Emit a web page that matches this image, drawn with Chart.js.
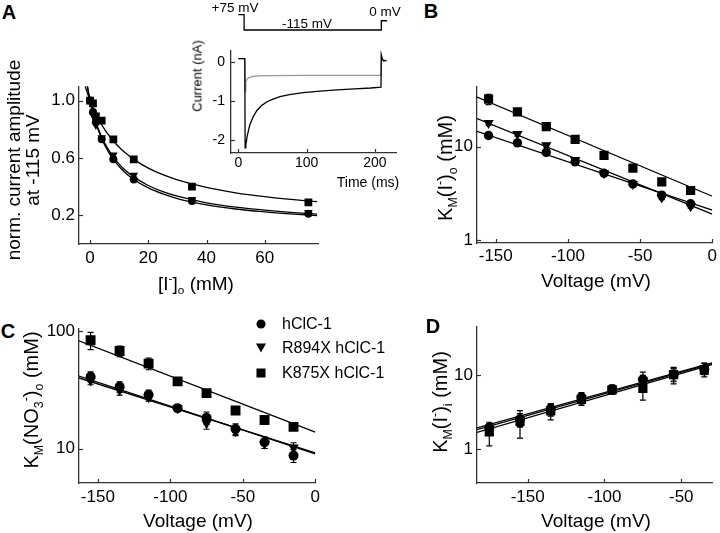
<!DOCTYPE html>
<html>
<head>
<meta charset="utf-8">
<script src="https://cdn.jsdelivr.net/npm/chart.js@4/dist/chart.umd.min.js"></script>
<style>
  body { margin: 0; background: #fff; }
  #fig { position: relative; width: 720px; height: 533px; overflow: hidden; font-family: "Liberation Sans", Arial, sans-serif; color: #000; }
  .c { position: absolute; }
  .t, .v, .lt, .mk { position: absolute; white-space: nowrap; line-height: 1; transform: translate(-50%, -50%); }
  .t { font-size: 19px; }
  .v { font-size: 20px; text-align: center; transform: translate(-50%, -50%) rotate(-90deg); }
  .lt { font-size: 20px; font-weight: bold; }
  .lg { position: absolute; white-space: nowrap; line-height: 1; font-size: 16px; transform: translateY(-50%); }
  sub, sup { font-size: 0.62em; line-height: 0; }
  .dot { width: 9px; height: 9px; border-radius: 50%; background: #000; }
  .tri { width: 0; height: 0; border-left: 5px solid transparent; border-right: 5px solid transparent; border-top: 9px solid #000; }
  .sq { width: 9px; height: 9px; background: #000; }
</style>
</head>
<body>
<div id="fig">
  <canvas id="cA" class="c"></canvas>
  <canvas id="cStep" class="c"></canvas>
  <canvas id="cIn" class="c"></canvas>
  <canvas id="cB" class="c"></canvas>
  <canvas id="cC" class="c"></canvas>
  <canvas id="cD" class="c"></canvas>

  <div class="lt" style="left:9px;top:12px">A</div>
  <div class="lt" style="left:431px;top:11px">B</div>
  <div class="lt" style="left:8px;top:331px">C</div>
  <div class="lt" style="left:433px;top:326px">D</div>

  <div class="v" style="left:23px;top:160px;font-size:19px">norm. current amplitude<br>at -115 mV</div>
  <div class="t" style="left:196px;top:283px">[I<sup>-</sup>]<sub>o</sub> (mM)</div>

  <div class="t" style="left:235px;top:8px;font-size:13.5px">+75 mV</div>
  <div class="t" style="left:307px;top:24px;font-size:13.5px">-115 mV</div>
  <div class="t" style="left:385px;top:12px;font-size:13.5px">0 mV</div>
  <div class="v" style="left:197px;top:76px;font-size:13px">Current (nA)</div>
  <div class="t" style="left:368px;top:182px;font-size:14px">Time (ms)</div>

  <div class="v" style="left:445px;top:168px">K<sub>M</sub>(I<sup>-</sup>)<sub>o</sub> (mM)</div>
  <div class="t" style="left:596px;top:280px">Voltage (mV)</div>

  <div class="v" style="left:31px;top:400px">K<sub>M</sub>(NO<sub>3</sub><sup>-</sup>)<sub>o</sub> (mM)</div>
  <div class="t" style="left:198px;top:520px">Voltage (mV)</div>

  <div class="v" style="left:440px;top:402px">K<sub>M</sub>(I<sup>-</sup>)<sub>i</sub> (mM)</div>
  <div class="t" style="left:596px;top:520px">Voltage (mV)</div>

  <div class="mk dot" style="left:261px;top:324px"></div>
  <div class="mk tri" style="left:261px;top:348px"></div>
  <div class="mk sq" style="left:261px;top:373px"></div>
  <div class="lg" style="left:282px;top:324px">hClC-1</div>
  <div class="lg" style="left:282px;top:348px">R894X hClC-1</div>
  <div class="lg" style="left:282px;top:373px">K875X hClC-1</div>
</div>

<script>
// A: normalised current at -115 mV vs external iodide
const concA = [0, 1, 2, 4, 8, 15, 35, 75];
const ampWT = [1.0, 0.92, 0.85, 0.73, 0.59, 0.45, 0.30, 0.21];
const ampR894X = [1.0, 0.90, 0.83, 0.74, 0.62, 0.48, 0.31, 0.22];
const ampK875X = [1.0, 0.98, 0.89, 0.86, 0.73, 0.59, 0.40, 0.29];
const concFitA = [-1.7, 0, 2, 4, 6, 8, 10, 12, 15, 20, 25, 30, 40, 50, 60, 70, 78];
const fitA_WT = [1.19, 1.0, 0.844, 0.734, 0.653, 0.59, 0.54, 0.499, 0.45, 0.391, 0.349, 0.317, 0.273, 0.244, 0.224, 0.208, 0.198];
const fitA_R894X = [1.19, 1.0, 0.85, 0.745, 0.668, 0.607, 0.557, 0.516, 0.468, 0.408, 0.365, 0.333, 0.287, 0.257, 0.236, 0.219, 0.208];
const fitA_K875X = [1.10, 1.0, 0.906, 0.831, 0.769, 0.718, 0.674, 0.637, 0.59, 0.529, 0.483, 0.447, 0.394, 0.357, 0.33, 0.309, 0.295];
const ticksA_x = [0, 20, 40, 60];
const labelsA_x = ["0", "20", "40", "60"];
const ticksA_y = [0.2, 0.6, 1.0];
const labelsA_y = ["0.2", "0.6", "1.0"];

// A inset: current traces and voltage protocol
const tBlack = [0, 9.5, 10, 11, 13, 17, 22, 27, 34, 42, 50, 61, 75, 95, 120, 145, 170, 194, 209, 209.5, 211, 213, 217];
const iBlack = [0.08, 0.08, -2.2, -2.12, -1.9, -1.6, -1.4, -1.25, -1.12, -1.02, -0.96, -0.89, -0.84, -0.79, -0.75, -0.72, -0.69, -0.67, -0.65, 0.17, 0.06, 0.02, 0.03];
const tGray = [0, 9.5, 10, 11, 12.5, 15, 18, 23, 30, 50, 100, 150, 209, 209.5, 211, 217];
const iGray = [0.08, 0.08, -0.75, -0.52, -0.45, -0.41, -0.39, -0.37, -0.36, -0.355, -0.35, -0.35, -0.35, 0.17, 0.06, 0.03];
const tStep = [0, 8.5, 8.5, 209.5, 209.5, 218];
const vStep = [75, 75, -115, -115, 0, 0];
const ticksIn_x = [0, 100, 200];
const labelsIn_x = ["0", "100", "200"];
const ticksIn_y = [-2, -1, 0];
const labelsIn_y = ["-2", "-1", "0"];

// B and C: KM vs voltage
const voltBC = [-155, -135, -115, -95, -75, -55, -35, -15];
const kmB_WT = [13.2, 11.0, 8.7, 6.9, 5.2, 4.0, 3.03, 2.45];
const kmB_R894X = [18, 13.7, 10.4, 7.2, 5.2, 4.0, 2.87, 2.3];
const kmB_K875X = [32.3, 23.6, 16.4, 12.0, 8.1, 5.9, 4.2, 3.4];
const errB_WT = [0.8, 0.5, 0.4, 0.3, 0.2, 0.15, 0.15, 0.1];
const errB_R894X = [1, 0.7, 0.5, 0.3, 0.2, 0.15, 0.15, 0.1];
const errB_K875X = [4, 2, 1, 0.6, 0.4, 0.3, 0.2, 0.2];
const voltFitBC = [-163, 0];
const fitB_WT = [14.6, 2.1];
const fitB_R894X = [20, 1.9];
const fitB_K875X = [34, 2.95];

const kmC_WT = [41, 33.6, 28.8, 22.1, 18.3, 14.7, 11.3, 8.7];
const kmC_R894X = [38, 31.6, 27.4, 22.1, 16.4, 14.1, 11, 10.2];
const kmC_K875X = [83.9, 67.9, 53, 37.4, 29.7, 21.1, 17.5, 15.3];
const errC_WT = [4, 3.5, 2.7, 1.2, 2.2, 1.5, 1.3, 1.1];
const errC_R894X = [3, 3, 2, 1, 1.8, 1.2, 1, 1];
const errC_K875X = [14, 7, 6, 2, 1.5, 1, 1, 0.8];
const fitC_WT = [41.5, 9.0];
const fitC_R894X = [40, 9.2];
const fitC_K875X = [83, 13.8];

// D: KM for internal iodide
const voltD = [-175, -155, -135, -115, -95, -75, -55, -35];
const kmD_WT = [1.95, 2.54, 3.5, 5.0, 6.4, 8.7, 10.1, 11.9];
const kmD_R894X = [1.9, 2.5, 3.4, 4.8, 6.5, 8.4, 10.3, 12.3];
const kmD_K875X = [1.72, 2.37, 3.3, 4.7, 6.3, 6.6, 10.1, 11.6];
const errD_WT = [0.3, 0.5, 0.6, 0.8, 0.9, 2.2, 2.5, 2.5];
const errD_R894X = [0.3, 0.5, 0.6, 0.7, 0.8, 1.5, 2, 2];
const errD_K875X = [0.6, 0.95, 0.8, 0.8, 0.8, 2, 2, 1.5];
const voltFitD = [-183, -30];
const fitD_WT = [1.95, 14.5];
const fitD_R894X = [1.85, 14.2];
const fitD_K875X = [1.7, 13.8];

const ticksV = [-150, -100, -50, 0];
const labelsV = ["-150", "-100", "-50", "0"];
const ticksVD = [-150, -100, -50];
const labelsVD = ["-150", "-100", "-50"];
const ticksLog1 = [1, 10];
const labelsLog1 = ["1", "10"];
const ticksLog10 = [10, 100];
const labelsLog10 = ["10", "100"];

Chart.defaults.font.family = "'Liberation Sans', Arial, sans-serif";
Chart.defaults.color = "#000";
Chart.defaults.animation = false;
Chart.defaults.responsive = false;
Chart.defaults.plugins.legend.display = false;
Chart.defaults.plugins.tooltip.enabled = false;

const pts = (xs, ys) => xs.map((x, i) => ({ x: x, y: ys[i] }));

// short tick marks pointing into the plot
const inTicks = {
  id: "inTicks",
  afterDraw(chart) {
    const ctx = chart.ctx;
    const a = chart.chartArea;
    ctx.save();
    ctx.strokeStyle = "#333";
    ctx.lineWidth = 1.2;
    Object.values(chart.scales).forEach((s) => {
      if (!s.options.display) return;
      s.ticks.forEach((t) => {
        const p = Math.round(s.getPixelForValue(t.value)) + 0.5;
        ctx.beginPath();
        if (s.isHorizontal()) {
          ctx.moveTo(p, a.bottom);
          ctx.lineTo(p, a.bottom - 4);
        } else {
          ctx.moveTo(a.left, p);
          ctx.lineTo(a.left + 4, p);
        }
        ctx.stroke();
      });
    });
    ctx.restore();
  },
};

// vertical error bars from a dataset's err array
const errBars = {
  id: "errBars",
  beforeDatasetsDraw(chart) {
    const ctx = chart.ctx;
    const xs = chart.scales.x;
    const ys = chart.scales.y;
    ctx.save();
    ctx.strokeStyle = "#000";
    ctx.lineWidth = 1.2;
    chart.data.datasets.forEach((ds) => {
      if (!ds.err) return;
      ds.data.forEach((d, i) => {
        const px = xs.getPixelForValue(d.x);
        const lo = ys.getPixelForValue(d.y - ds.err[i]);
        const hi = ys.getPixelForValue(d.y + ds.err[i]);
        ctx.beginPath();
        ctx.moveTo(px, lo);
        ctx.lineTo(px, hi);
        ctx.moveTo(px - 3, lo);
        ctx.lineTo(px + 3, lo);
        ctx.moveTo(px - 3, hi);
        ctx.lineTo(px + 3, hi);
        ctx.stroke();
      });
    });
    ctx.restore();
  },
};

function markers(data, style, r, err) {
  return {
    data: data,
    showLine: false,
    pointStyle: style,
    pointRadius: r,
    pointRotation: style === "triangle" ? 180 : 0,
    pointBackgroundColor: "#000",
    pointBorderColor: "#000",
    pointBorderWidth: 0,
    err: err,
  };
}

function fitLine(data, color, smooth) {
  return {
    data: data,
    showLine: true,
    pointRadius: 0,
    borderColor: color,
    borderWidth: 1.3,
    cubicInterpolationMode: smooth ? "monotone" : "default",
  };
}

function axis(type, min, max, ticks, labels, size, pad, fontSize) {
  return {
    type: type,
    min: min,
    max: max,
    afterBuildTicks: (s) => {
      s.ticks = ticks.map((v) => ({ value: v }));
    },
    afterFit: (s) => {
      if (s.isHorizontal()) s.height = size;
      else s.width = size;
    },
    grid: { display: false, drawTicks: false },
    border: { color: "#333", width: 1.3 },
    ticks: {
      padding: pad,
      font: { size: fontSize },
      autoSkip: false,
      maxRotation: 0,
      callback: (v, i) => labels[i],
    },
  };
}

// box = plot area in page pixels [left, top, right, bottom]; m = margins round it
function panel(id, box, m, datasets, x, y) {
  const c = document.getElementById(id);
  c.width = box[2] - box[0] + m[0] + m[2];
  c.height = box[3] - box[1] + m[1] + m[3];
  c.style.left = box[0] - m[0] + "px";
  c.style.top = box[1] - m[1] + "px";
  return new Chart(c, {
    type: "scatter",
    data: { datasets: datasets },
    options: {
      layout: { autoPadding: false, padding: { left: 0, top: m[1], right: m[2], bottom: 0 } },
      scales: { x: x, y: y },
    },
    plugins: [errBars, inTicks],
  });
}

panel("cA", [79, 78, 318, 244], [45, 6, 6, 30], [
  markers(pts(concA, ampWT), "circle", 4),
  markers(pts(concA, ampR894X), "triangle", 5),
  markers(pts(concA, ampK875X), "rect", 5.5),
  fitLine(pts(concFitA, fitA_WT), "#000", true),
  fitLine(pts(concFitA, fitA_R894X), "#000", true),
  fitLine(pts(concFitA, fitA_K875X), "#000", true),
], axis("linear", -3.8, 78.3, ticksA_x, labelsA_x, 30, 4, 17),
   axis("linear", 0, 1.1, ticksA_y, labelsA_y, 45, 4, 17));

panel("cIn", [231, 38, 396, 153], [30, 2, 2, 22], [
  fitLine(pts(tBlack, iBlack), "#000", false),
  fitLine(pts(tGray, iGray), "#999", false),
], axis("linear", -10.7, 231, ticksIn_x, labelsIn_x, 22, 2, 14),
   axis("linear", -2.33, 0.29, ticksIn_y, labelsIn_y, 30, 6, 14));

const stepX = axis("linear", -10.7, 231, [], [], 0, 0, 10);
const stepY = axis("linear", -177, 133, [], [], 0, 0, 10);
stepX.display = false;
stepY.display = false;
panel("cStep", [231, 10, 396, 35], [0, 0, 0, 0], [
  fitLine(pts(tStep, vStep), "#000", false),
], stepX, stepY);

panel("cB", [477, 78, 714, 243], [45, 6, 6, 30], [
  markers(pts(voltBC, kmB_WT), "circle", 4.7, errB_WT),
  markers(pts(voltBC, kmB_R894X), "triangle", 6, errB_R894X),
  markers(pts(voltBC, kmB_K875X), "rect", 6.5, errB_K875X),
  fitLine(pts(voltFitBC, fitB_WT), "#000", false),
  fitLine(pts(voltFitBC, fitB_R894X), "#000", false),
  fitLine(pts(voltFitBC, fitB_K875X), "#000", false),
], axis("linear", -163, 0, ticksV, labelsV, 30, 3, 17),
   axis("logarithmic", 0.932, 44.5, ticksLog1, labelsLog1, 45, 4, 17));

panel("cC", [79, 320, 318, 483], [45, 6, 6, 30], [
  markers(pts(voltBC, kmC_WT), "circle", 5, errC_WT),
  markers(pts(voltBC, kmC_R894X), "triangle", 6, errC_R894X),
  markers(pts(voltBC, kmC_K875X), "rect", 7, errC_K875X),
  fitLine(pts(voltFitBC, fitC_WT), "#000", false),
  fitLine(pts(voltFitBC, fitC_R894X), "#000", false),
  fitLine(pts(voltFitBC, fitC_K875X), "#000", false),
], axis("linear", -163, 0, ticksV, labelsV, 30, 4, 17),
   axis("logarithmic", 5.08, 106.3, ticksLog10, labelsLog10, 45, 4, 17));

panel("cD", [477, 318, 712, 483], [45, 6, 6, 30], [
  markers(pts(voltD, kmD_WT), "circle", 5, errD_WT),
  markers(pts(voltD, kmD_R894X), "triangle", 6, errD_R894X),
  markers(pts(voltD, kmD_K875X), "rect", 6.5, errD_K875X),
  fitLine(pts(voltFitD, fitD_WT), "#000", false),
  fitLine(pts(voltFitD, fitD_R894X), "#000", false),
  fitLine(pts(voltFitD, fitD_K875X), "#000", false),
], axis("linear", -183, -30, ticksVD, labelsVD, 30, 4, 17),
   axis("logarithmic", 0.355, 45.1, ticksLog1, labelsLog1, 45, 4, 17));
</script>
</body>
</html>
